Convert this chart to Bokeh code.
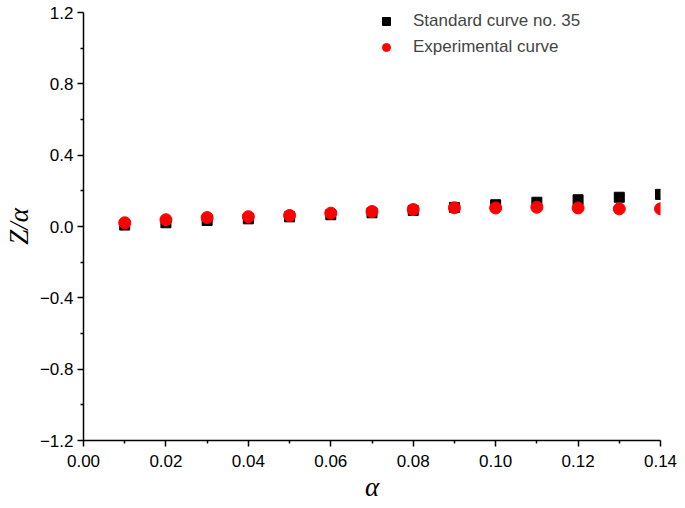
from bokeh.plotting import figure
from bokeh.models import Legend, LegendItem, FixedTicker, Range1d
from bokeh.embed import file_html
from bokeh.resources import INLINE

alpha = [0.01, 0.02, 0.03, 0.04, 0.05, 0.06, 0.07, 0.08, 0.09, 0.10, 0.11, 0.12, 0.13, 0.14]
standard = [0.008, 0.021, 0.034, 0.043, 0.054, 0.066, 0.077, 0.090, 0.107, 0.122, 0.136, 0.150, 0.164, 0.180]
experimental = [0.021, 0.038, 0.050, 0.055, 0.062, 0.075, 0.084, 0.095, 0.105, 0.104, 0.108, 0.104, 0.099, 0.099]

x_ticks = [0.00, 0.02, 0.04, 0.06, 0.08, 0.10, 0.12, 0.14]
x_labels = ["0.00", "0.02", "0.04", "0.06", "0.08", "0.10", "0.12", "0.14"]
y_ticks = [-1.2, -0.8, -0.4, 0.0, 0.4, 0.8, 1.2]
y_labels = ["\u22121.2", "\u22120.8", "\u22120.4", "0.0", "0.4", "0.8", "1.2"]

p = figure(width=677, height=506, output_backend="svg", toolbar_location=None,
           x_range=Range1d(0.0, 0.14), y_range=Range1d(-1.2, 1.2),
           min_border_left=83, min_border_right=17, min_border_top=12, min_border_bottom=66)
p.outline_line_color = None
p.grid.visible = False

sq = p.scatter(alpha, standard, marker="square", size=10, color="black")
ci = p.scatter(alpha, experimental, marker="circle", size=12, color="#ff0000")

font = "Liberation Sans"
for ax, ticks, labels in ((p.xaxis[0], x_ticks, x_labels), (p.yaxis[0], y_ticks, y_labels)):
    minor = []
    for a, b in zip(ticks[:-1], ticks[1:]):
        minor.append((a + b) / 2)
    ax.ticker = FixedTicker(ticks=ticks, minor_ticks=minor)
    ax.major_label_overrides = {t: l for t, l in zip(ticks, labels)}
    ax.axis_line_width = 1.5
    ax.major_tick_line_width = 1.5
    ax.minor_tick_line_width = 1.5
    ax.major_tick_in = 0
    ax.major_tick_out = 6
    ax.minor_tick_in = 0
    ax.minor_tick_out = 3
    ax.major_label_text_font = font
    ax.major_label_text_font_size = "17px"
    ax.major_label_text_color = "black"
    ax.axis_label_text_font = "Liberation Serif"
    ax.axis_label_text_font_style = "italic"
    ax.axis_label_text_font_size = "27px"
    ax.axis_label_text_color = "black"

p.xaxis[0].axis_label = "\u03b1"
p.yaxis[0].axis_label = "Z/\u03b1"
p.xaxis[0].major_label_standoff = 8
p.yaxis[0].major_label_standoff = 4
p.xaxis[0].axis_label_standoff = 2
p.yaxis[0].axis_label_standoff = 3

legend = Legend(items=[LegendItem(label="Standard curve no. 35", renderers=[sq]),
                       LegendItem(label="Experimental curve", renderers=[ci])],
                location=(293, 383), border_line_color=None, background_fill_alpha=0,
                label_text_font=font, label_text_font_size="17px",
                glyph_width=20, glyph_height=20, label_height=20, spacing=6,
                padding=0, margin=0, label_standoff=17)
p.add_layout(legend, "center")

open("out.html", "w").write(file_html(p, INLINE))
